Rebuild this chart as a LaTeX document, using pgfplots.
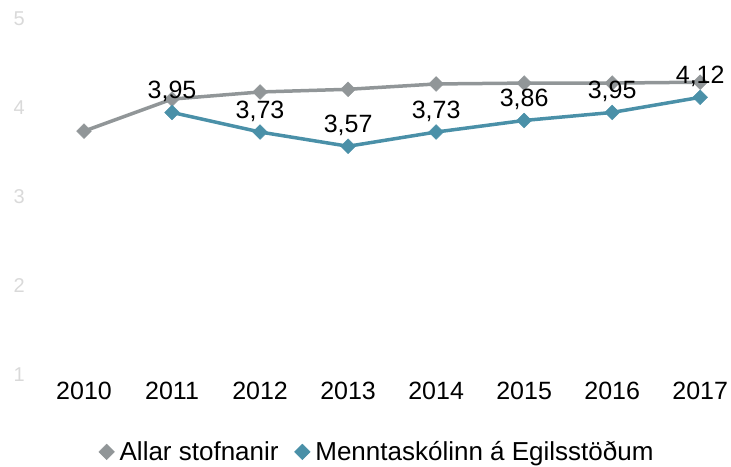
\documentclass[border=0pt]{standalone}
\usepackage{fontspec}
\setmainfont{Liberation Sans}
\usepackage{pgfplots}
\pgfplotsset{compat=1.18}
\definecolor{cgray}{RGB}{145,150,152}
\definecolor{cteal}{RGB}{74,144,168}
\definecolor{clight}{RGB}{217,217,217}
\begin{document}
\begin{tikzpicture}[x=1pt,y=1pt]
\useasboundingbox (-40,-91) rectangle (691,375);
\begin{axis}[
  at={(0pt,0pt)}, anchor=south west,
  scale only axis, width=691pt, height=356pt,
  xmin=-0.5, xmax=7.35, ymin=1, ymax=5,
  clip=false,
  axis line style={draw=none},
  major tick length=0pt,
  xtick={0,...,7}, xticklabels={2010,2011,2012,2013,2014,2015,2016,2017},
  ytick={1,2,3,4,5},
  /pgf/number format/assume math mode=true,
  yticklabel style={font=\fontsize{20}{22}\selectfont, text=clight, anchor=east, inner sep=0pt, xshift=-15pt},
  xticklabel style={font=\fontsize{25}{28}\selectfont, anchor=north, inner sep=0pt, yshift=-7pt},
  legend style={draw=none, fill=none, legend columns=2, at={(0.488,-0.216)}, anchor=center,
    font=\fontsize{26}{30}\selectfont,
    /tikz/every even column/.append style={column sep=14pt}},
  legend image code/.code={\path[draw=none] (0pt,0pt) -- (18pt,0pt); \path[#1, mark size=5.5pt] plot coordinates {(7pt,0pt)};},
  every axis plot/.append style={line width=3.5pt, mark=square*, mark size=5.2pt},
]
\addplot[color=cgray, mark options={fill=cgray, draw=cgray, rotate=45, line width=0.5pt}] coordinates {
  (0,3.74) (1,4.10) (2,4.18) (3,4.21) (4,4.27) (5,4.28) (6,4.28) (7,4.29)};
\addlegendentry{Allar stofnanir}
\addplot[color=cteal, mark options={fill=cteal, draw=cteal, rotate=45, line width=0.5pt},
  nodes near coords,
  nodes near coords style={font=\fontsize{25}{28}\selectfont, text=black, anchor=base, yshift=14pt,
     /pgf/number format/.cd, fixed, fixed zerofill, precision=2, use comma, assume math mode=true}]
  coordinates {
  (1,3.95) (2,3.73) (3,3.57) (4,3.73) (5,3.86) (6,3.95) (7,4.12)};
\addlegendentry{Menntaskólinn á Egilsstöðum}
\end{axis}
\end{tikzpicture}
\end{document}
